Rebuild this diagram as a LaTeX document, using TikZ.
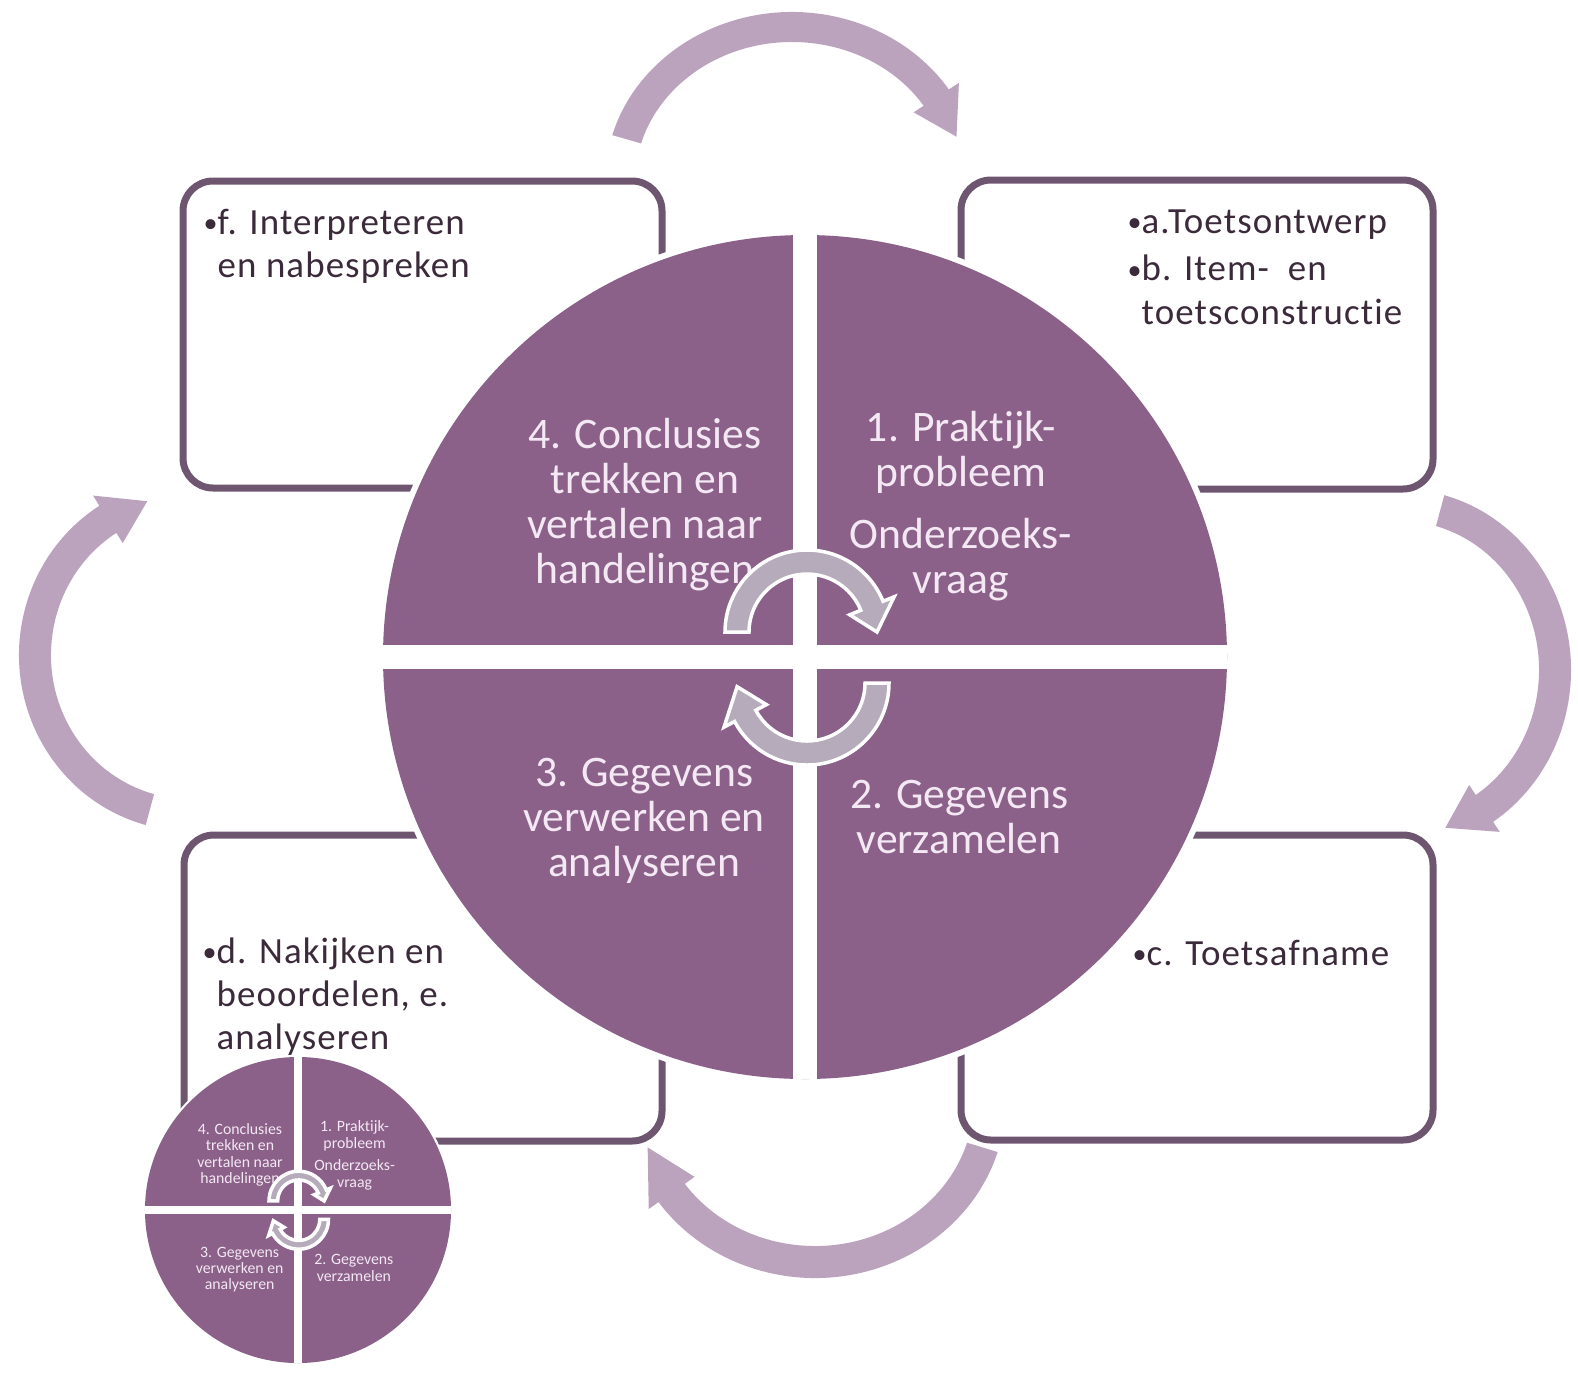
\documentclass[tikz,border=0pt]{standalone}
\usepackage{fontspec}
\setmainfont{Carlito}[Ligatures=NoCommon]
\newfontfamily\boxfont{Carlito}[LetterSpace=3, Ligatures=NoCommon]

\definecolor{wheelfill}{HTML}{8B6089}
\definecolor{wheeltext}{HTML}{F3E8F3}
\definecolor{boxline}{HTML}{6E5670}
\definecolor{boxtext}{HTML}{3B2A3A}
\definecolor{loopfill}{HTML}{BBA3BE}
\definecolor{turnfill}{HTML}{B5ABBA}

% small bullet in front of each box item
\newcommand{\dotmark}{{\fontsize{8}{8}\selectfont\raisebox{0.4pt}{\textbullet}}}

% curved block arrow: style, centre, x/y radius, from, to (tip), half width, head half width, head angle
\newcommand{\bentarrow}[9]{%
\path[#1,shift={#2}] (#5:#3+#7 and #4+#7)
  arc[start angle=#5, end angle={#6-#9}, x radius={#3+#7}, y radius={#4+#7}]
  -- (#6-#9:#3+#8 and #4+#8) -- (#6:#3 and #4) -- (#6-#9:#3-#8 and #4-#8)
  -- (#6-#9:#3-#7 and #4-#7)
  arc[start angle={#6-#9}, end angle=#5, x radius={#3-#7}, y radius={#4-#7}] -- cycle;}

\tikzset{
  stagebox/.style={draw=boxline, line width=0.7mm, rounded corners=3mm},
  stagetext/.style={anchor=base west, inner sep=0pt, text=boxtext,
    font=\boxfont\fontsize{10.5}{12.3}\selectfont},
  quarter/.style={align=center, inner sep=0pt, text=wheeltext,
    font=\fontsize{12.4}{12.8}\selectfont},
  loop/.style={fill=loopfill},
  turn/.style={fill=turnfill, draw=white, line width=0.35mm},
  wheel/.pic={
    \fill[white] (0,0) circle[radius=428];
    \fill[wheelfill] (0,0) circle[radius=422];
    \fill[white] (-422,-12) rectangle (422,12); % horizontal gap
    \fill[white] (-12,-422) rectangle (12,422); % vertical gap
    \node[quarter] (-q4) at (-160,-152) {4. Conclusies\\trekken en\\vertalen naar\\handelingen};
    \node[quarter] (-q1) at (156,-151) {1. Praktijk-\\probleem\\[5pt]Onderzoeks-\\vraag};
    \node[quarter] (-q3) at (-161,164) {3. Gegevens\\verwerken en\\analyseren};
    \node[quarter] (-q2) at (154,160) {2. Gegevens\\verzamelen};
    \bentarrow{turn}{(2,-25)}{70}{70}{180}{360}{12}{24}{22}
    \bentarrow{turn}{(2,26)}{70}{70}{0}{177}{12}{24}{25}
  }
}

\begin{document}
\begin{tikzpicture}[x=0.1mm,y=-0.1mm]
\useasboundingbox (0,0) rectangle (1578,1372);

% the four boxes
\draw[stagebox] (183,181) rectangle (662,488);
\draw[stagebox] (961,180) rectangle (1433,489);
\draw[stagebox] (184,835) rectangle (662,1141);
\draw[stagebox] (961,835) rectangle (1433,1140);

\node[stagetext] (ftxt) at (203,234)
  {\begin{tabular}[t]{@{}l@{}l@{}}\dotmark&f. Interpreteren\\&en nabespreken\end{tabular}};
\node[stagetext] (abtxt) at (1127,233)
  {\begin{tabular}[t]{@{}l@{}l@{}}\dotmark&a.Toetsontwerp\\[1.3pt]\dotmark&b. Item-\ \ en\\&toetsconstructie\end{tabular}};
\node[stagetext] (detxt) at (202,963)
  {\begin{tabular}[t]{@{}l@{}l@{}}\dotmark&d. Nakijken en\\&beoordelen, e.\\&analyseren\end{tabular}};
\node[stagetext] (ctxt) at (1132,965)
  {\begin{tabular}[t]{@{}l@{}l@{}}\dotmark&c. Toetsafname\end{tabular}};

\pic (big) at (805,657) {wheel};

% arrows round the boxes
\bentarrow{loop}{(792,182)}{172}{155}{196}{343}{15}{27}{16}
\bentarrow{loop}{(1400,670)}{155}{165}{-75}{73}{16}{28}{16}
\bentarrow{loop}{(815,1100)}{175}{162}{17}{163}{16}{28}{18}
\bentarrow{loop}{(190,655)}{155}{160}{105}{254}{16}{28}{16}

\pic[scale=0.3626, transform shape] (small) at (298,1210) {wheel};
\end{tikzpicture}
\end{document}
